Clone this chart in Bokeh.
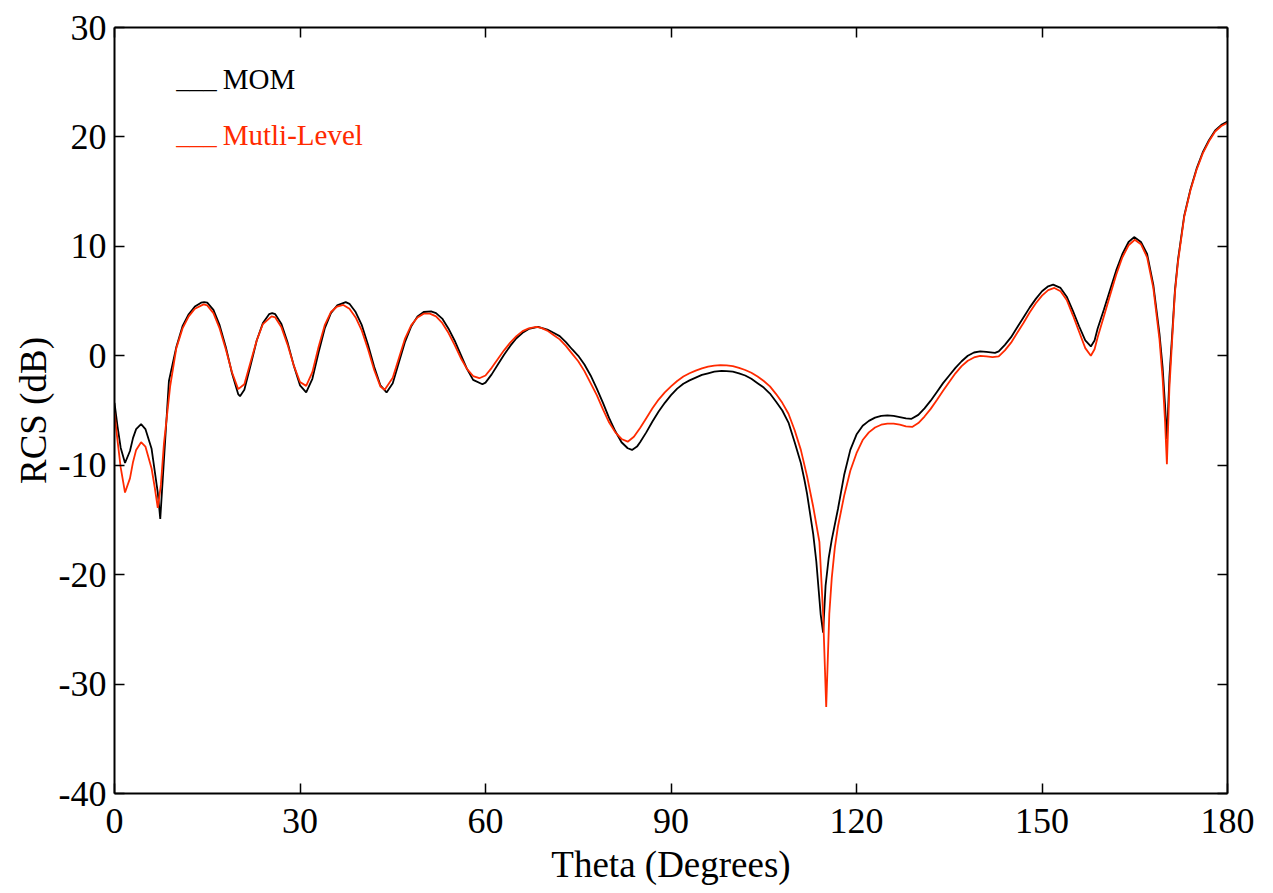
from bokeh.plotting import figure
from bokeh.models import Range1d, LinearAxis, FixedTicker, Label
from bokeh.embed import file_html
from bokeh.resources import INLINE

# ---------------- data ----------------
x_ticks = [0, 30, 60, 90, 120, 150, 180]
x_tick_labels = ["0", "30", "60", "90", "120", "150", "180"]
y_ticks = [-40, -30, -20, -10, 0, 10, 20, 30]
y_tick_labels = ["-40", "-30", "-20", "-10", "0", "10", "20", "30"]

series_names = ["MOM", "Mutli-Level"]

theta_mom = [
    0, 0.5, 1, 1.7, 2.5, 3, 3.5, 4.3, 5, 6,
    7, 7.4, 8, 8.8, 10, 11, 12, 13, 14, 14.5,
    15, 16, 17, 18, 19, 20, 20.3, 21, 22, 23,
    24, 25, 25.5, 26, 27, 28, 29, 30, 31, 32,
    33, 34, 35, 36, 37.4, 38, 39, 40, 41, 42,
    43, 44, 45, 46, 47, 48, 49, 50, 51.2, 52,
    53, 54, 55, 56, 57, 58, 59.5, 60, 61, 62,
    63, 64, 65, 66, 67, 68.5, 70, 71, 72, 73,
    74, 75, 76, 77, 78, 79, 80, 81, 82, 83,
    83.7, 84.5, 85, 86, 87, 88, 89, 90, 91, 92,
    93, 94, 95, 96, 97, 98.2, 99, 100, 101, 102,
    103, 104, 105, 106, 107, 108, 109, 110, 111, 111.6,
    112, 113, 113.5, 114.2, 114.6, 115, 115.5, 116, 117, 118,
    119, 120, 121, 122, 123, 124, 125, 126, 127, 128,
    128.9, 130, 131, 132, 133, 134, 135, 136, 137, 138,
    139, 140, 141, 142.4, 143, 144, 145, 146, 147, 148,
    149, 150, 151, 151.8, 153, 154, 155, 156, 157, 157.9,
    158.5, 159, 160, 161, 162, 163, 164, 164.9, 166, 167,
    168, 169, 169.5, 169.9, 170.2, 170.6, 171, 171.5, 172, 173,
    174, 175, 176, 177, 178, 179, 180,
]
rcs_mom = [
    -4.3, -6.5, -8.4, -9.8, -8.7, -7.5, -6.7, -6.25, -6.7, -8.5,
    -12.5, -14.9, -9.5, -2.3, 0.8, 2.7, 3.8, 4.5, 4.85, 4.9,
    4.85, 4.2, 2.8, 0.8, -1.6, -3.5, -3.7, -3.1, -0.9, 1.4,
    3.0, 3.8, 3.9, 3.8, 2.9, 1.2, -0.9, -2.7, -3.35, -2.1,
    0.3, 2.5, 3.9, 4.6, 4.9, 4.75, 4.0, 2.8, 1.0, -1.0,
    -2.7, -3.35, -2.5, -0.6, 1.3, 2.7, 3.6, 4.0, 4.05, 3.9,
    3.4, 2.5, 1.4, 0.1, -1.2, -2.2, -2.6, -2.45, -1.7, -0.8,
    0.1, 0.9, 1.6, 2.1, 2.45, 2.65, 2.4, 2.1, 1.8, 1.25,
    0.6, 0.0, -0.8, -1.8, -3.0, -4.3, -5.7, -6.9, -7.9, -8.45,
    -8.6, -8.3, -7.9, -7.0, -6.0, -5.1, -4.3, -3.6, -3.0, -2.55,
    -2.25, -2.0, -1.75, -1.6, -1.45, -1.37, -1.4, -1.45, -1.6, -1.8,
    -2.1, -2.5, -2.9, -3.45, -4.2, -5.0, -6.1, -7.9, -9.8, -11.4,
    -12.6, -16.3, -18.8, -23.6, -25.3, -21.0, -18.5, -16.8, -14.0, -10.9,
    -8.6, -7.2, -6.4, -5.95, -5.65, -5.5, -5.45, -5.5, -5.6, -5.72,
    -5.76, -5.4, -4.8, -4.1, -3.3, -2.5, -1.8, -1.1, -0.5, 0.0,
    0.3, 0.4, 0.35, 0.27, 0.4, 1.0, 1.7, 2.6, 3.5, 4.4,
    5.2, 5.9, 6.35, 6.5, 6.2, 5.4, 4.1, 2.7, 1.4, 0.85,
    1.4, 2.5, 4.2, 6.0, 7.8, 9.3, 10.4, 10.85, 10.4, 9.3,
    6.5, 2.0, -1.0, -4.5, -7.6, -2.0, 1.5, 6.0, 8.8, 12.8,
    15.2, 17.1, 18.6, 19.7, 20.6, 21.1, 21.4,
]

theta_ml = [
    0, 0.5, 1, 1.7, 2.5, 3, 3.5, 4.3, 5, 6,
    6.5, 7, 7.5, 8, 9, 10, 11, 12, 13, 14.4,
    15, 16, 17, 18, 19, 20, 21, 22, 23, 24,
    25.4, 26, 27, 28, 29, 30, 31, 32, 33, 34,
    35, 36, 37, 38, 39, 40, 41, 42, 43, 43.7,
    45, 46, 47, 48, 49, 50, 51, 52, 53, 54,
    55, 56, 57, 58, 59, 60, 61, 62, 63, 64,
    65, 66, 67, 68.2, 69, 70, 71, 72, 73, 74,
    75, 76, 77, 78, 79, 80, 81, 82, 83, 84,
    85, 86, 87, 88, 89, 90, 91, 92, 93, 94,
    95, 96, 97, 98, 99, 100, 101, 102, 103, 104,
    105, 106, 107, 108, 109, 110, 111, 112, 113, 114,
    114.6, 115.1, 115.6, 116, 116.5, 117, 118, 119, 120, 121,
    122, 123, 124, 125, 126, 127, 128, 129, 130, 131,
    132, 133, 134, 135, 136, 137, 138, 139, 140, 141,
    142, 143, 144, 145, 146, 147, 148, 149, 150, 151,
    152, 153, 154, 155, 156, 157, 157.9, 158.5, 159, 160,
    161, 162, 163, 164, 165, 166, 167, 168, 169, 169.5,
    169.9, 170.2, 170.6, 171, 171.5, 172, 173, 174, 175, 176,
    177, 178, 179, 180,
]
rcs_ml = [
    -5.2, -7.8, -10.2, -12.5, -11.2, -9.7, -8.6, -7.9, -8.3, -10.3,
    -12.0, -13.9, -11.8, -8.0, -2.8, 0.7, 2.5, 3.6, 4.3, 4.7,
    4.6, 3.9, 2.5, 0.6, -1.5, -3.05, -2.6, -0.6, 1.4, 2.9,
    3.6, 3.5, 2.6, 1.0, -0.9, -2.4, -2.75, -1.5, 0.8, 2.8,
    4.0, 4.5, 4.65, 4.3, 3.5, 2.3, 0.6, -1.3, -2.8, -3.1,
    -2.0, -0.2, 1.6, 2.8, 3.5, 3.85, 3.85, 3.6, 3.0, 2.1,
    1.0, -0.2, -1.2, -1.85, -2.05, -1.8, -1.1, -0.3, 0.5, 1.2,
    1.8, 2.25, 2.5, 2.65, 2.55, 2.3, 1.9, 1.5, 0.9, 0.2,
    -0.5, -1.4, -2.5, -3.6, -4.9, -6.1, -7.0, -7.6, -7.85, -7.4,
    -6.6, -5.7, -4.8, -4.0, -3.35, -2.8, -2.3, -1.9, -1.6, -1.35,
    -1.15, -1.0, -0.9, -0.85, -0.87, -0.95, -1.1, -1.3, -1.55, -1.9,
    -2.3, -2.8, -3.5, -4.3, -5.3, -6.8, -8.6, -11.0, -13.8, -17.0,
    -23.6, -32.1, -23.6, -20.3, -17.5, -15.6, -12.8, -10.5, -8.9, -7.7,
    -7.0, -6.55, -6.3, -6.2, -6.2, -6.3, -6.45, -6.5, -6.15, -5.55,
    -4.85, -4.05, -3.2, -2.4, -1.6, -0.95, -0.45, -0.15, 0.0, -0.05,
    -0.12, -0.05, 0.5, 1.2, 2.1, 3.0, 3.95, 4.8, 5.5, 6.0,
    6.2, 5.9, 5.1, 3.7, 2.2, 0.7, 0.0, 0.6, 1.7, 3.6,
    5.5, 7.4, 9.0, 10.1, 10.6, 10.2, 9.0, 6.2, 1.5, -2.0,
    -6.0, -9.9, -3.0, 1.0, 5.8, 8.6, 12.7, 15.1, 17.0, 18.5,
    19.6, 20.5, 21.0, 21.3,
]

# ---------------- style ----------------
FONT = "Liberation Serif"
BLACK = "#000000"
RED = "#ff2a00"

p = figure(
    width=1273, height=893,
    x_range=Range1d(0, 180), y_range=Range1d(-40, 30),
    output_backend="svg", toolbar_location=None,
    min_border_left=114, min_border_right=46,
    min_border_top=27, min_border_bottom=100,
    x_axis_label="Theta (Degrees)", y_axis_label="RCS (dB)",
)
p.grid.visible = False
p.outline_line_color = None
p.background_fill_color = "white"
p.border_fill_color = "white"

def style_axis(ax, ticks, labels, show_labels=True):
    ax.ticker = FixedTicker(ticks=ticks)
    ax.major_label_overrides = {t: (l if show_labels else "") for t, l in zip(ticks, labels)}
    ax.minor_tick_line_color = None
    ax.major_tick_in = 10
    ax.major_tick_out = 0
    ax.major_tick_line_width = 1.5
    ax.major_tick_line_color = BLACK
    ax.axis_line_width = 2
    ax.axis_line_color = BLACK
    ax.major_label_text_font = FONT
    ax.major_label_text_font_size = "36px"
    ax.major_label_text_color = BLACK
    ax.axis_label_text_font = FONT
    ax.axis_label_text_font_size = "37px"
    ax.axis_label_text_font_style = "normal"
    ax.axis_label_text_color = BLACK

xax = p.xaxis[0]
yax = p.yaxis[0]
style_axis(xax, x_ticks, x_tick_labels)
style_axis(yax, y_ticks, y_tick_labels)
xax.major_label_standoff = 15
xax.axis_label_standoff = 8
yax.major_label_standoff = 8
yax.axis_label_standoff = 2

top = LinearAxis()
style_axis(top, x_ticks, x_tick_labels, show_labels=False)
top.major_label_text_font_size = "0px"
p.add_layout(top, "above")
right = LinearAxis()
style_axis(right, y_ticks, y_tick_labels, show_labels=False)
right.major_label_text_font_size = "0px"
p.add_layout(right, "right")

p.line(theta_mom, rcs_mom, line_color=BLACK, line_width=1.8)
p.line(theta_ml, rcs_ml, line_color=RED, line_width=1.8)

# legend drawn as text, as in the reference
for i, (name, col) in enumerate(zip(series_names, [BLACK, RED])):
    yb = 25.3 - i * 5.1
    p.add_layout(Label(x=10.0, y=yb, text="___", text_font=FONT, text_font_size="27px",
                       text_color=col, text_baseline="alphabetic"))
    p.add_layout(Label(x=17.5, y=yb, text=name, text_font=FONT, text_font_size="29px",
                       text_color=col, text_baseline="alphabetic"))

open("out.html", "w").write(file_html(p, INLINE))
